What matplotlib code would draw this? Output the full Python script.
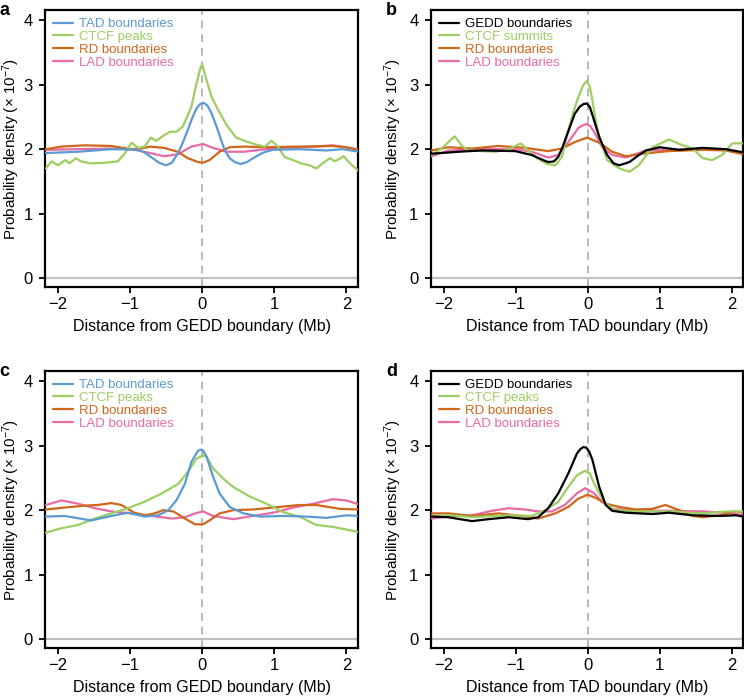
import matplotlib
matplotlib.use('Agg')
import matplotlib.pyplot as plt

plt.rcParams['font.family'] = ['Liberation Sans', 'DejaVu Sans']
plt.rcParams['mathtext.fontset'] = 'custom'
plt.rcParams['mathtext.rm'] = 'Liberation Sans'
plt.rcParams['mathtext.it'] = 'Liberation Sans:italic'
plt.rcParams['mathtext.bf'] = 'Liberation Sans:bold'

# ==========================
# Datos
# ==========================
# Panel a: distancia desde borde GEDD
a_tad_x = [-2.17, -1.72, -1.26, -0.89, -0.80, -0.70, -0.60, -0.50, -0.42, -0.335, -0.27, -0.20, -0.14,
           -0.08, -0.03, 0.02, 0.07, 0.12, 0.20, 0.26, 0.31, 0.38, 0.45, 0.53, 0.62, 0.72, 0.85,
           0.98, 1.35, 1.72, 1.95, 2.17]
a_tad_y = [1.94, 1.96, 2.00, 1.99, 1.95, 1.87, 1.79, 1.75, 1.79, 1.94, 2.10, 2.30, 2.48,
           2.63, 2.70, 2.72, 2.68, 2.58, 2.35, 2.15, 1.99, 1.86, 1.80, 1.77, 1.80, 1.87, 1.95,
           1.99, 2.00, 1.98, 2.00, 1.96]
a_ctcf_x = [-2.17, -2.09, -2.00, -1.90, -1.84, -1.75, -1.68, -1.54, -1.35, -1.17, -1.07, -0.98,
            -0.89, -0.80, -0.71, -0.64, -0.55, -0.45, -0.36, -0.27, -0.15, -0.08, -0.02, 0.00,
            0.06, 0.13, 0.22, 0.34, 0.47, 0.61, 0.75, 0.87, 0.96, 1.05, 1.14, 1.26, 1.37, 1.49,
            1.58, 1.67, 1.77, 1.84, 1.96, 2.05, 2.17]
a_ctcf_y = [1.70, 1.81, 1.75, 1.83, 1.78, 1.86, 1.81, 1.78, 1.79, 1.81, 1.94, 2.10,
            2.02, 2.04, 2.18, 2.13, 2.20, 2.27, 2.27, 2.35, 2.66, 3.02, 3.28, 3.31,
            3.07, 2.81, 2.61, 2.37, 2.18, 2.12, 2.07, 2.04, 2.13, 2.04, 1.88, 1.83, 1.78, 1.75,
            1.70, 1.78, 1.86, 1.81, 1.89, 1.78, 1.66]
a_rd_x = [-2.17, -1.95, -1.63, -1.26, -1.10, -0.98, -0.85, -0.72, -0.53, -0.34, -0.20, -0.06, 0.01,
          0.10, 0.24, 0.38, 0.57, 0.89, 1.35, 1.81, 1.99, 2.17]
a_rd_y = [2.00, 2.04, 2.06, 2.05, 2.02, 2.00, 2.01, 2.04, 2.02, 1.96, 1.86, 1.80, 1.79,
          1.83, 1.96, 2.03, 2.04, 2.03, 2.04, 2.05, 2.03, 1.99]
a_lad_x = [-2.17, -1.72, -1.26, -0.98, -0.72, -0.53, -0.34, -0.15, 0.01, 0.15, 0.34, 0.57,
           0.89, 1.12, 1.58, 1.81, 1.99, 2.17]
a_lad_y = [1.99, 2.00, 2.01, 2.00, 1.94, 1.89, 1.92, 2.04, 2.08, 2.02, 1.96, 1.96,
           2.00, 2.02, 2.04, 2.06, 2.03, 1.99]

# Panel b: distancia desde borde TAD
b_gedd_x = [-2.17, -1.80, -1.47, -1.01, -0.78, -0.62, -0.55, -0.47, -0.41, -0.35, -0.29, -0.18, -0.11,
            -0.06, -0.01, 0.03, 0.065, 0.11, 0.16, 0.22, 0.27, 0.36, 0.44, 0.58, 0.70, 0.81, 1.00,
            1.27, 1.60, 1.92, 2.17]
b_gedd_y = [1.93, 1.96, 1.98, 1.97, 1.91, 1.83, 1.80, 1.81, 1.88, 2.03, 2.22, 2.55, 2.66,
            2.70, 2.71, 2.65, 2.53, 2.37, 2.19, 2.03, 1.91, 1.78, 1.75, 1.80, 1.90, 1.98, 2.03,
            1.99, 2.02, 2.00, 1.95]
b_ctcf_x = [-2.17, -2.03, -1.94, -1.85, -1.75, -1.66, -1.47, -1.28, -1.10, -0.93, -0.83, -0.69,
            -0.57, -0.45, -0.36, -0.27, -0.20, -0.13, -0.06, -0.01, 0.03, 0.065, 0.11, 0.16, 0.27,
            0.44, 0.58, 0.71, 0.90, 1.13, 1.32, 1.46, 1.60, 1.73, 1.87, 2.01, 2.17]
b_ctcf_y = [1.91, 2.01, 2.11, 2.20, 2.05, 1.98, 1.97, 1.96, 2.00, 2.09, 1.98, 1.85,
            1.77, 1.75, 1.88, 2.29, 2.58, 2.81, 3.00, 3.06, 2.96, 2.76, 2.45, 2.19, 1.83,
            1.70, 1.65, 1.75, 2.03, 2.15, 2.06, 2.01, 1.86, 1.83, 1.91, 2.09, 2.09]
b_rd_x = [-2.17, -1.94, -1.61, -1.24, -0.87, -0.55, -0.36, -0.18, -0.01, 0.16, 0.34, 0.53,
          0.76, 1.13, 1.60, 1.92, 2.17]
b_rd_y = [1.98, 2.03, 2.01, 2.05, 2.02, 1.97, 2.01, 2.11, 2.18, 2.10, 1.96, 1.89,
          1.93, 1.97, 1.99, 1.98, 1.92]
b_lad_x = [-2.17, -1.94, -1.47, -1.01, -0.78, -0.55, -0.41, -0.27, -0.13, -0.05, -0.01, 0.04, 0.09,
           0.20, 0.34, 0.53, 0.81, 1.13, 1.60, 1.92, 2.17]
b_lad_y = [1.89, 1.98, 2.00, 2.00, 1.96, 1.87, 1.91, 2.11, 2.33, 2.38, 2.39, 2.35, 2.27,
           2.03, 1.91, 1.87, 1.98, 1.99, 2.00, 1.99, 1.93]

# Panel c: distancia desde borde GEDD
c_tad_x = [-2.17, -1.91, -1.54, -1.26, -1.03, -0.80, -0.61, -0.47, -0.36, -0.24, -0.15, -0.06,
           -0.02, 0.01, 0.06, 0.15, 0.24, 0.38, 0.57, 0.80, 1.12, 1.45, 1.72, 2.00, 2.17]
c_tad_y = [1.90, 1.91, 1.84, 1.91, 1.96, 1.90, 1.92, 2.00, 2.15, 2.41, 2.75, 2.92,
           2.94, 2.93, 2.83, 2.52, 2.26, 2.05, 1.95, 1.90, 1.91, 1.90, 1.88, 1.92, 1.91]
c_ctcf_x = [-2.17, -1.95, -1.72, -1.49, -1.26, -1.03, -0.80, -0.56, -0.33, -0.20, -0.08, 0.01,
            0.06, 0.15, 0.29, 0.43, 0.66, 0.89, 1.12, 1.35, 1.58, 1.81, 2.17]
c_ctcf_y = [1.65, 1.72, 1.77, 1.87, 1.95, 2.03, 2.13, 2.26, 2.41, 2.59, 2.80, 2.85,
            2.83, 2.65, 2.49, 2.36, 2.21, 2.10, 1.97, 1.90, 1.77, 1.74, 1.66]
c_rd_x = [-2.17, -1.91, -1.63, -1.45, -1.26, -1.12, -0.94, -0.80, -0.66, -0.54, -0.40, -0.24,
          -0.10, 0.01, 0.10, 0.24, 0.43, 0.70, 0.98, 1.35, 1.58, 1.91, 2.17]
c_rd_y = [2.01, 2.04, 2.07, 2.08, 2.11, 2.08, 1.96, 1.92, 1.95, 2.00, 1.98, 1.87,
          1.78, 1.78, 1.84, 1.95, 2.00, 2.01, 2.04, 2.08, 2.08, 2.02, 2.01]
c_lad_x = [-2.17, -1.95, -1.72, -1.49, -1.26, -0.98, -0.70, -0.42, -0.24, -0.10, 0.01, 0.15,
           0.43, 0.70, 0.98, 1.26, 1.54, 1.81, 2.00, 2.17]
c_lad_y = [2.08, 2.15, 2.10, 2.03, 1.98, 1.95, 1.91, 1.87, 1.89, 1.95, 1.98, 1.91,
           1.86, 1.91, 1.96, 2.04, 2.10, 2.17, 2.15, 2.09]

# Panel d: distancia desde borde TAD
d_gedd_x = [-2.17, -1.94, -1.61, -1.38, -1.10, -0.83, -0.69, -0.55, -0.41, -0.27, -0.15, -0.10,
            -0.06, -0.02, 0.02, 0.065, 0.16, 0.25, 0.34, 0.53, 0.90, 1.13, 1.46, 1.83, 2.06, 2.17]
d_gedd_y = [1.90, 1.89, 1.83, 1.86, 1.89, 1.86, 1.89, 2.03, 2.26, 2.57, 2.88, 2.95,
            2.98, 2.97, 2.91, 2.78, 2.36, 2.08, 1.99, 1.96, 1.94, 1.96, 1.92, 1.91, 1.92, 1.90]
d_ctcf_x = [-2.17, -1.89, -1.61, -1.33, -1.06, -0.78, -0.59, -0.41, -0.27, -0.15, -0.04, 0.03,
            0.065, 0.16, 0.25, 0.39, 0.67, 1.13, 1.60, 1.92, 2.17]
d_ctcf_y = [1.91, 1.92, 1.89, 1.91, 1.92, 1.91, 2.00, 2.13, 2.36, 2.54, 2.61, 2.57,
            2.47, 2.26, 2.10, 2.00, 1.98, 1.98, 1.95, 1.98, 1.98]
d_rd_x = [-2.17, -1.94, -1.61, -1.24, -0.92, -0.69, -0.45, -0.27, -0.13, 0.00, 0.11, 0.25,
          0.44, 0.67, 0.90, 1.08, 1.27, 1.46, 1.60, 1.83, 2.06, 2.17]
d_rd_y = [1.95, 1.95, 1.91, 1.95, 1.91, 1.87, 1.95, 2.05, 2.18, 2.24, 2.19, 2.10,
          2.05, 2.01, 2.02, 2.08, 2.00, 1.91, 1.89, 1.92, 1.98, 1.96]
d_lad_x = [-2.17, -1.89, -1.61, -1.33, -1.10, -0.87, -0.69, -0.50, -0.32, -0.15, -0.04, 0.00,
           0.09, 0.20, 0.34, 0.67, 1.13, 1.60, 1.92, 2.17]
d_lad_y = [1.87, 1.91, 1.92, 1.99, 2.03, 2.01, 1.98, 1.98, 2.08, 2.26, 2.34, 2.32,
           2.26, 2.13, 2.02, 1.99, 1.99, 1.98, 1.96, 1.92]

# ==========================
# Colores
# ==========================
AZUL = '#5a9bd3'
VERDE = '#9dce62'
NARANJA = '#d0661a'
ROSA = '#ea6aa6'
NEGRO = '#000000'


def dibujar_panel(ax, series, xlabel, letra, ylab_x):
    # dibujar en orden inverso para que la primera serie quede arriba
    for x, y, color, etiqueta in reversed(series):
        ax.plot(x, y, color=color, lw=1.6, label=etiqueta,
                solid_joinstyle='round', solid_capstyle='round', zorder=3)

    ax.axhline(0, color='#c0c0c0', lw=1.6, zorder=1)
    ax.axvline(0, color='#b8b8b8', lw=1.4, ls=(0, (4, 3)), zorder=1)

    ax.set_xlim(-2.18, 2.16)
    ax.set_ylim(-0.14, 4.16)
    ax.set_xticks([-2, -1, 0, 1, 2])
    ax.set_yticks([0, 1, 2, 3, 4])
    ax.tick_params(direction='out', length=4, width=1.3, labelsize=12, pad=3)
    ax.tick_params(axis='y', pad=5)
    for lado in ax.spines.values():
        lado.set_linewidth(1.6)
        lado.set_color('black')

    ax.set_xlabel(xlabel, fontsize=11.5, labelpad=5)
    ax.set_ylabel('Probability density (× 10$^{\\mathregular{-7}}$)', fontsize=11)
    ax.yaxis.set_label_coords(ylab_x, 0.5)

    handles, labels = ax.get_legend_handles_labels()
    leg = ax.legend(handles[::-1], labels[::-1], loc='upper left', frameon=False,
                    fontsize=9.5, handlelength=1.5, handletextpad=0.5,
                    labelspacing=0.05, borderaxespad=0.2, bbox_to_anchor=(0.0, 1.0))
    for linea, texto in zip(leg.get_lines(), leg.get_texts()):
        texto.set_color(linea.get_color())

    ax.text(-0.145, 1.0, letra, transform=ax.transAxes, fontsize=13,
            fontweight='bold', va='center', ha='left')


# ==========================
# Figura
# ==========================
fig = plt.figure(figsize=(7.44, 6.97), dpi=100)

ax_a = fig.add_axes([0.0605, 0.5882, 0.4207, 0.3974])
ax_b = fig.add_axes([0.5793, 0.5882, 0.4194, 0.3974])
ax_c = fig.add_axes([0.0605, 0.0703, 0.4207, 0.3974])
ax_d = fig.add_axes([0.5793, 0.0703, 0.4194, 0.3974])

dibujar_panel(ax_a, [
    (a_tad_x, a_tad_y, AZUL, 'TAD boundaries'),
    (a_ctcf_x, a_ctcf_y, VERDE, 'CTCF peaks'),
    (a_rd_x, a_rd_y, NARANJA, 'RD boundaries'),
    (a_lad_x, a_lad_y, ROSA, 'LAD boundaries'),
], 'Distance from GEDD boundary (Mb)', 'a', -0.075)

dibujar_panel(ax_b, [
    (b_gedd_x, b_gedd_y, NEGRO, 'GEDD boundaries'),
    (b_ctcf_x, b_ctcf_y, VERDE, 'CTCF summits'),
    (b_rd_x, b_rd_y, NARANJA, 'RD boundaries'),
    (b_lad_x, b_lad_y, ROSA, 'LAD boundaries'),
], 'Distance from TAD boundary (Mb)', 'b', -0.085)

dibujar_panel(ax_c, [
    (c_tad_x, c_tad_y, AZUL, 'TAD boundaries'),
    (c_ctcf_x, c_ctcf_y, VERDE, 'CTCF peaks'),
    (c_rd_x, c_rd_y, NARANJA, 'RD boundaries'),
    (c_lad_x, c_lad_y, ROSA, 'LAD boundaries'),
], 'Distance from GEDD boundary (Mb)', 'c', -0.075)

dibujar_panel(ax_d, [
    (d_gedd_x, d_gedd_y, NEGRO, 'GEDD boundaries'),
    (d_ctcf_x, d_ctcf_y, VERDE, 'CTCF peaks'),
    (d_rd_x, d_rd_y, NARANJA, 'RD boundaries'),
    (d_lad_x, d_lad_y, ROSA, 'LAD boundaries'),
], 'Distance from TAD boundary (Mb)', 'd', -0.085)

fig.savefig('out.png', dpi=100)
